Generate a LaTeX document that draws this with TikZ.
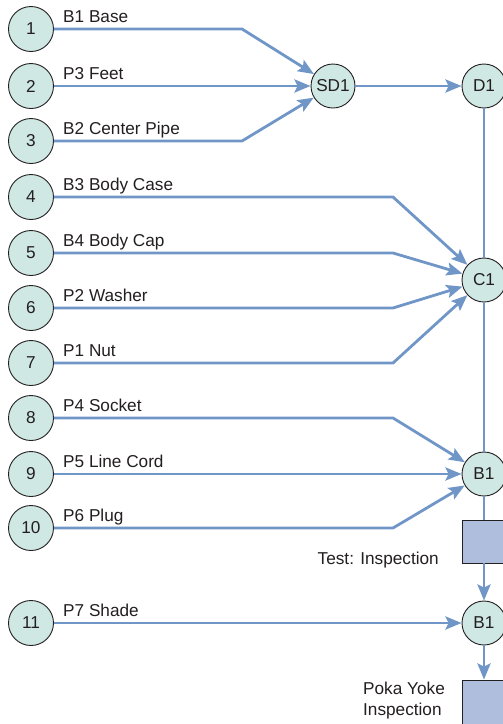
\documentclass[tikz,border=0pt]{standalone}
\usepackage{fontspec}
\setmainfont{Liberation Sans}
\usetikzlibrary{arrows.meta}
\definecolor{circfill}{HTML}{CFE8E4}
\definecolor{flowblue}{HTML}{7096C8}
\definecolor{boxfill}{HTML}{B0BEDE}
\definecolor{inkgray}{HTML}{231F20}
\begin{document}
\begin{tikzpicture}[x=1pt,y=-1pt,
  every node/.style={font=\fontsize{17.2}{20}\selectfont, text=inkgray},
  partc/.style={circle, draw=inkgray, line width=0.9pt, fill=circfill, minimum size=45pt, inner sep=0pt},
  opc/.style={circle, draw=inkgray, line width=0.9pt, fill=circfill, minimum size=44pt, inner sep=0pt},
  inspbox/.style={draw=inkgray, line width=0.9pt, fill=boxfill},
  flow/.style={draw=flowblue, line width=2.8pt},
  flowar/.style={flow, -{Stealth[length=16pt,width=13pt,inset=3pt]}},
  lbl/.style={anchor=base west, inner sep=0pt}
]
\useasboundingbox (0,0) rectangle (503,724);
\clip (0,0) rectangle (503,724);

% left part circles
\foreach \i/\y in {1/29,2/86,3/141,4/197,5/253,6/308,7/363,8/418,9/474,10/528,11/623}{
  \node[partc] (n\i) at (31,\y) {\i};
}
% labels
\node[lbl] (l1) at (63,22.5) {B1 Base};
\node[lbl] (l2) at (63,79.5) {P3 Feet};
\node[lbl] (l3) at (63,134.5) {B2 Center Pipe};
\node[lbl] (l4) at (63,190.5) {B3 Body Case};
\node[lbl] (l5) at (63,246.5) {B4 Body Cap};
\node[lbl] (l6) at (63,301.5) {P2 Washer};
\node[lbl] (l7) at (63,356.5) {P1 Nut};
\node[lbl] (l8) at (63,411.5) {P4 Socket};
\node[lbl] (l9) at (63,467.5) {P5 Line Cord};
\node[lbl] (l10) at (63,521.5) {P6 Plug};
\node[lbl] (l11) at (63,616.5) {P7 Shade};

% operation circles
\node[opc] (SD1) at (333,86) {SD1};
\node[opc] (D1) at (484,86) {D1};
\node[opc] (C1) at (484,280) {C1};
\node[opc] (B1a) at (484,474) {B1};
\node[opc] (B1b) at (484,623) {B1};

% inspection boxes
\node[inspbox, minimum width=44pt, minimum height=43pt, inner sep=0pt] (T1) at (484,541.5) {};
\node[inspbox, minimum width=44pt, minimum height=46pt, inner sep=0pt] (T2) at (484,703) {};
\node[anchor=base east, inner sep=0pt] (tl1) at (439,564) {Test: Inspection};
\node[anchor=north west, inner sep=0pt, align=left, font=\fontsize{17.2}{21}\selectfont] (tl2) at (363,682) {Poka Yoke\\Inspection};

% bend coordinates
\coordinate (k1) at (242,29);
\coordinate (k3) at (242,141);
\coordinate (k4) at (393,197);
\coordinate (k5) at (393,253);
\coordinate (k6) at (393,308);
\coordinate (k7) at (393,363);
\coordinate (k8) at (393,418);
\coordinate (k10) at (393,528);

% connectors to SD1
\draw[flowar] (n1) -- (k1) -- (SD1);
\draw[flowar] (n2) -- (SD1);
\draw[flowar] (n3) -- (k3) -- (SD1);
\draw[flowar] (SD1) -- (D1);
% connectors to C1
\draw[flowar] (n4) -- (k4) -- (C1);
\draw[flowar] (n5) -- (k5) -- (C1);
\draw[flowar] (n6) -- (k6) -- (C1);
\draw[flowar] (n7) -- (k7) -- (C1);
% connectors to B1a
\draw[flowar] (n8) -- (k8) -- (B1a);
\draw[flowar] (n9) -- (B1a);
\draw[flowar] (n10) -- (k10) -- (B1a);
% to B1b
\draw[flowar] (n11) -- (B1b);

% main line
\draw[flow] (D1) -- (C1);
\draw[flow] (C1) -- (B1a);
\draw[flow] (B1a) -- (T1);
\draw[flowar] (T1) -- (B1b);
\draw[flowar] (B1b) -- (T2);
\end{tikzpicture}
\end{document}
